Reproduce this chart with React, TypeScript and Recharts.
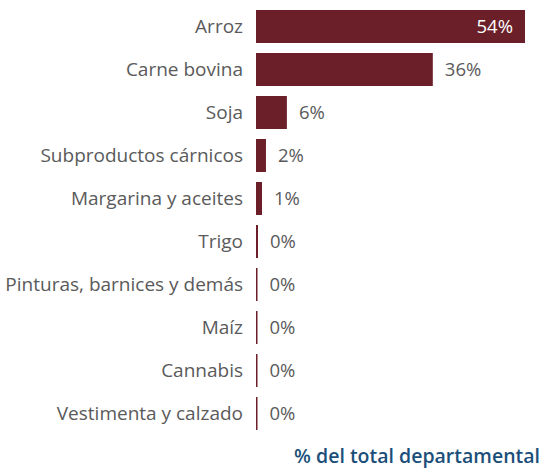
import { BarChart, Bar, XAxis, YAxis, LabelList } from 'recharts';

const categories = [
  'Arroz',
  'Carne bovina',
  'Soja',
  'Subproductos cárnicos',
  'Margarina y aceites',
  'Trigo',
  'Pinturas, barnices y demás',
  'Maíz',
  'Cannabis',
  'Vestimenta y calzado',
];
const shares = [54, 35.5, 6.2, 2, 1.2, 0.4, 0.3, 0.3, 0.3, 0.3];
const shareLabels = ['54%', '36%', '6%', '2%', '1%', '0%', '0%', '0%', '0%', '0%'];

const data = categories.map((name, i) => ({ name, share: shares[i], label: shareLabels[i] }));

const FONT = '"Open Sans", sans-serif';
const BAR = '#6B1F29';

const renderLabel = (props: any) => {
  const { x, y, width, height, index } = props;
  const text = shareLabels[index];
  const cy = y + height / 2;
  if (index === 0) {
    return (
      <text x={x + width - 12} y={cy} dy="0.35em" textAnchor="end" fill="#ffffff" fontSize={18.5} fontFamily={FONT}>
        {text}
      </text>
    );
  }
  return (
    <text x={x + width + 12} y={cy} dy="0.35em" textAnchor="start" fill="#5a5a5a" fontSize={18.5} fontFamily={FONT}>
      {text}
    </text>
  );
};

export default function App() {
  return (
    <div style={{ position: 'absolute', left: 0, top: 0, width: 545, height: 472, background: '#fff', fontFamily: FONT }}>
      <BarChart
        width={545}
        height={440}
        data={data}
        layout="vertical"
        margin={{ top: 5, right: 20, bottom: 5, left: 0 }}
      >
        <XAxis type="number" domain={[0, 54]} hide />
        <YAxis
          type="category"
          dataKey="name"
          width={256}
          axisLine={false}
          tickLine={false}
          tickSize={6}
          tickMargin={7}
          interval={0}
          tick={{ fill: '#5a5a5a', fontSize: 19, fontFamily: FONT }}
        />
        <Bar dataKey="share" fill={BAR} barSize={33} isAnimationActive={false}>
          <LabelList dataKey="label" content={renderLabel} />
        </Bar>
      </BarChart>
      <div
        style={{
          position: 'absolute',
          right: 5,
          top: 442,
          color: '#1B4F7A',
          fontSize: 19.5,
          fontWeight: 600,
          fontFamily: FONT,
          whiteSpace: 'nowrap',
        }}
      >
        % del total departamental
      </div>
    </div>
  );
}
